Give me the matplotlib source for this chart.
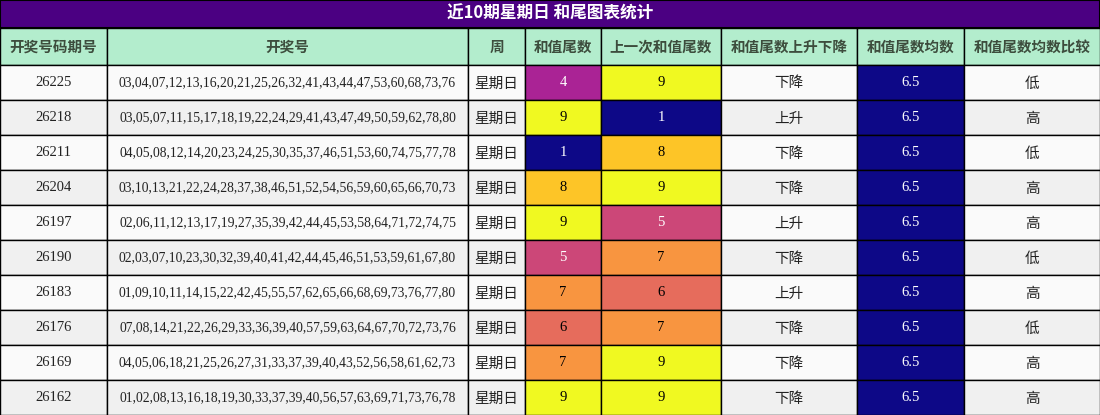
import matplotlib
matplotlib.use("Agg")
import matplotlib.pyplot as plt
from matplotlib.patches import Rectangle
from matplotlib import colors

title = "近10期星期日 和尾图表统计"
headers = ["开奖号码期号", "开奖号", "周", "和值尾数", "上一次和值尾数", "和值尾数上升下降", "和值尾数均数", "和值尾数均数比较"]
periods = ["26225","26218","26211","26204","26197","26190","26183","26176","26169","26162"]
numbers = [
 "03,04,07,12,13,16,20,21,25,26,32,41,43,44,47,53,60,68,73,76",
 "03,05,07,11,15,17,18,19,22,24,29,41,43,47,49,50,59,62,78,80",
 "04,05,08,12,14,20,23,24,25,30,35,37,46,51,53,60,74,75,77,78",
 "03,10,13,21,22,24,28,37,38,46,51,52,54,56,59,60,65,66,70,73",
 "02,06,11,12,13,17,19,27,35,39,42,44,45,53,58,64,71,72,74,75",
 "02,03,07,10,23,30,32,39,40,41,42,44,45,46,51,53,59,61,67,80",
 "01,09,10,11,14,15,22,42,45,55,57,62,65,66,68,69,73,76,77,80",
 "07,08,14,21,22,26,29,33,36,39,40,57,59,63,64,67,70,72,73,76",
 "04,05,06,18,21,25,26,27,31,33,37,39,40,43,52,56,58,61,62,73",
 "01,02,08,13,16,18,19,30,33,37,39,40,56,57,63,69,71,73,76,78",
]
weekday = ["星期日"]*10
tail = [4,9,1,8,9,5,7,6,7,9]
prev_tail = [9,1,8,9,5,7,6,7,9,9]
trend = ["下降","上升","下降","下降","上升","下降","上升","下降","下降","下降"]
mean_tail = [6.5]*10
compare = ["低","高","低","高","高","低","高","低","高","高"]

W, H = 1100, 415
fig = plt.figure(figsize=(W/100, H/100), dpi=100)
ax = fig.add_axes([0,0,1,1])
ax.set_xlim(0, W); ax.set_ylim(H, 0); ax.axis("off")

cjk = ["Noto Sans CJK SC", "DejaVu Sans"]
serif = ["Liberation Serif", "DejaVu Serif"]
xs = [0,107,468,525,601,721,857,964,1100]
title_h, head_h = 28, 37
row_h = (H - title_h - head_h) / 10
cmap = plt.get_cmap("plasma"); norm = colors.Normalize(1, 9)

ax.add_patch(Rectangle((0,0), W, title_h, fc="#4b0082", ec="black", lw=1.5))
ax.text(W/2, title_h/2, title, color="white", fontsize=12, weight="bold", family=cjk, ha="center", va="center")
for i, h in enumerate(headers):
    ax.add_patch(Rectangle((xs[i], title_h), xs[i+1]-xs[i], head_h, fc="#b3edcd", ec="black", lw=1))
    ax.text((xs[i]+xs[i+1])/2, title_h+head_h/2, h, color="#3d4d3d", fontsize=10.5, weight="bold", family=cjk, ha="center", va="center")

def fg(c):
    r,g,b,_ = c
    return "white" if 0.299*r+0.587*g+0.114*b < 0.5 else "black"

for r in range(10):
    y = title_h + head_h + r*row_h
    bg = "#fafafa" if r % 2 == 0 else "#f0f0f0"
    cells = [(periods[r], None, serif), (numbers[r], None, serif), (weekday[r], None, cjk),
             (str(tail[r]), cmap(norm(tail[r])), serif), (str(prev_tail[r]), cmap(norm(prev_tail[r])), serif),
             (trend[r], None, cjk), (f"{mean_tail[r]}", "#0d0887", serif), (compare[r], None, cjk)]
    for i, (t, c, fam) in enumerate(cells):
        fc = c if c is not None else bg
        ax.add_patch(Rectangle((xs[i], y), xs[i+1]-xs[i], row_h, fc=fc, ec="black", lw=1))
        tc = fg(colors.to_rgba(fc)) if c is not None else "#222222"
        fs = 9.8 if i == 1 else 10.5
        dy = -1 if fam is serif else 0
        ax.text((xs[i]+xs[i+1])/2, y+row_h/2+dy+1, t, color=tc, fontsize=fs, family=fam, ha="center", va="center")

fig.savefig("out.png", dpi=100)
